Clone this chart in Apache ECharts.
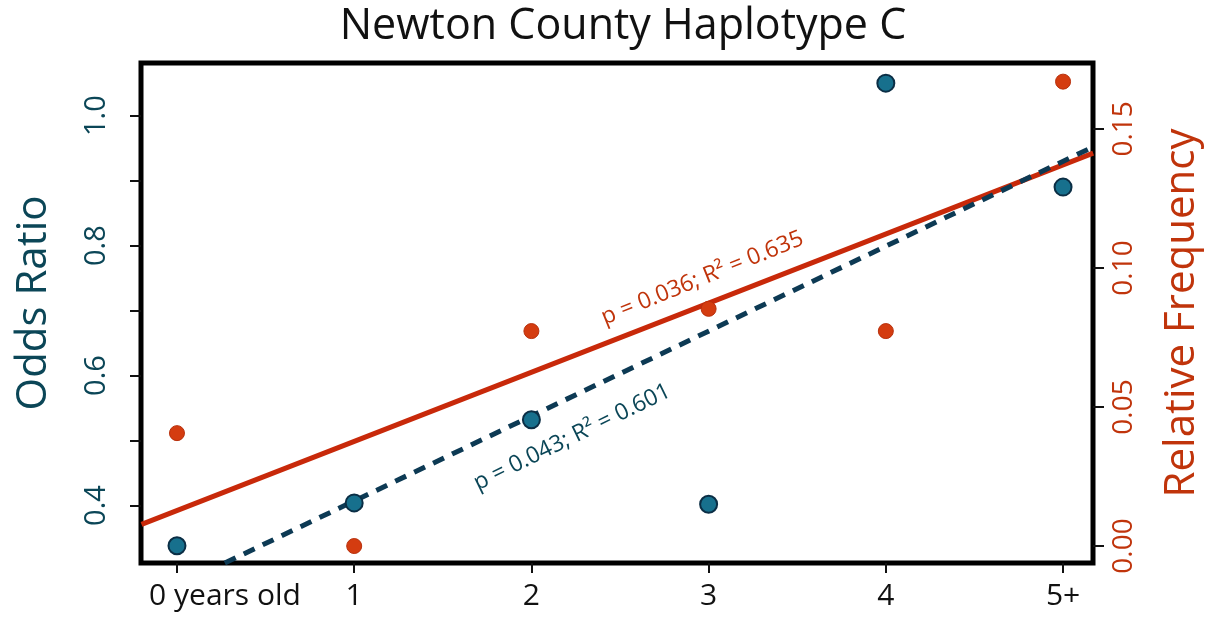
<!DOCTYPE html>
<html>
<head>
<meta charset="utf-8">
<title>Newton County Haplotype C</title>
<script src="https://cdn.jsdelivr.net/npm/echarts@6/dist/echarts.min.js"></script>
<style>
  html, body { margin: 0; padding: 0; background: #fff; }
  #chart { width: 1212px; height: 621px; }
</style>
</head>
<body>
<div id="chart"></div>
<script>
// age classes on the x axis
const ageGroups = ['0 years old', '1', '2', '3', '4', '5+'];
const agePos = [0, 1, 2, 3, 4, 5];

// values
const oddsRatio = [0.338, 0.404, 0.532, 0.402, 1.05, 0.89];      // left axis
const relFrequency = [0.0406, 0.0, 0.0773, 0.0853, 0.0773, 0.167]; // right axis

// fitted lines, end points
const oddsFit = [[0.27, 0.3115], [5.17, 0.952]];
const freqFit = [[-0.2, 0.0078], [5.17, 0.1413]];

// ticks
const oddsTicks = [0.4, 0.5, 0.6, 0.7, 0.8, 0.9, 1.0];
const oddsLabels = [0.4, 0.6, 0.8, 1.0];
const freqTicks = [0, 0.05, 0.1, 0.15];

const oddsText = 'p = 0.043; R\u00b2 = 0.601';
const freqText = 'p = 0.036; R\u00b2 = 0.635';

const BLUE = '#0b4657';
const RED = '#c0340b';
const FONT = '"Open Sans", "Noto Sans", sans-serif';

const chart = echarts.init(document.getElementById('chart'));

let option = {
  backgroundColor: '#fff',
  animation: false,
  title: {
    text: 'Newton County Haplotype C',
    left: 618,
    textAlign: 'center',
    top: 0,
    textStyle: { fontFamily: FONT, fontSize: 43, fontWeight: 'normal', color: '#111' }
  },
  grid: {
    left: 141, right: 119, top: 63, bottom: 58,
    show: true, borderColor: '#000', borderWidth: 5, backgroundColor: 'transparent'
  },
  xAxis: {
    type: 'value',
    min: -0.203,
    max: 5.169,
    axisLine: { show: false, onZero: false },
    splitLine: { show: false },
    axisTick: {
      customValues: agePos,
      length: 10,
      lineStyle: { color: '#111', width: 2 }
    },
    axisLabel: {
      customValues: agePos,
      // the first label sits to the right of its tick, as in the source
      formatter: v => {
        const i = Math.round(v);
        return i === 0 ? '{first|' + ageGroups[0] + '}' : ageGroups[i];
      },
      rich: {
        first: { padding: [0, 0, 0, 96], fontFamily: FONT, fontSize: 30, color: '#111' }
      },
      margin: 18,
      fontFamily: FONT,
      fontSize: 30,
      color: '#111'
    }
  },
  yAxis: [{
    type: 'value',
    min: 0.3115,
    max: 1.081,
    position: 'left',
    name: 'Odds Ratio',
    nameLocation: 'middle',
    nameRotate: 90,
    nameGap: 86,
    nameTextStyle: { fontFamily: FONT, fontSize: 42, color: BLUE, padding: [0, 0, 0, 20] },
    axisLine: { show: false, onZero: false },
    splitLine: { show: false },
    axisTick: {
      customValues: oddsTicks,
      length: 11,
      lineStyle: { color: '#111', width: 2 }
    },
    axisLabel: {
      customValues: oddsLabels,
      formatter: v => v.toFixed(1),
      rotate: 90,
      margin: 30,
      fontFamily: FONT,
      fontSize: 29,
      color: BLUE
    }
  }, {
    type: 'value',
    min: -0.0061,
    max: 0.1737,
    position: 'right',
    name: 'Relative Frequency',
    nameLocation: 'middle',
    nameRotate: 90,
    nameGap: 68,
    nameTextStyle: { fontFamily: FONT, fontSize: 42, color: RED },
    axisLine: { show: false, onZero: false },
    splitLine: { show: false },
    axisTick: {
      customValues: freqTicks,
      length: 11,
      lineStyle: { color: '#111', width: 2 }
    },
    axisLabel: {
      customValues: freqTicks,
      formatter: v => v.toFixed(2),
      rotate: 90,
      margin: 17,
      fontFamily: FONT,
      fontSize: 28,
      color: RED
    }
  }],
  series: [
    {
      name: 'frequency fit',
      type: 'line',
      yAxisIndex: 1,
      data: freqFit,
      symbol: 'none',
      lineStyle: { color: '#c8290a', width: 5 },
      z: 2
    },
    {
      name: 'odds fit',
      type: 'line',
      yAxisIndex: 0,
      data: oddsFit,
      symbol: 'none',
      lineStyle: { color: '#0d3a54', width: 5, type: [12, 9] },
      z: 3
    },
    {
      name: 'Relative Frequency',
      type: 'scatter',
      yAxisIndex: 1,
      data: agePos.map((x, i) => [x, relFrequency[i]]),
      symbolSize: 15,
      itemStyle: { color: '#d43c10', borderColor: '#b8300c', borderWidth: 1, opacity: 1 },
      z: 4
    },
    {
      name: 'Odds Ratio',
      type: 'scatter',
      yAxisIndex: 0,
      data: agePos.map((x, i) => [x, oddsRatio[i]]),
      symbolSize: 17,
      itemStyle: { color: '#17708d', borderColor: '#0b2e45', borderWidth: 2, opacity: 1 },
      z: 5
    }
  ]
};

chart.setOption(option);

// regression notes, placed along their lines
const freqAt = chart.convertToPixel({ xAxisIndex: 0, yAxisIndex: 1 }, [2.965, 0.0963]);
const oddsAt = chart.convertToPixel({ xAxisIndex: 0, yAxisIndex: 0 }, [2.23, 0.505]);

chart.setOption({
  graphic: [
    {
      type: 'text',
      x: freqAt[0], y: freqAt[1],
      rotation: 22 * Math.PI / 180,
      style: {
        text: freqText, fill: RED,
        font: '23px ' + FONT,
        align: 'center', verticalAlign: 'middle'
      },
      z: 10
    },
    {
      type: 'text',
      x: oddsAt[0], y: oddsAt[1],
      rotation: 26 * Math.PI / 180,
      style: {
        text: oddsText, fill: BLUE,
        font: '23px ' + FONT,
        align: 'center', verticalAlign: 'middle'
      },
      z: 10
    }
  ]
});
</script>
</body>
</html>
